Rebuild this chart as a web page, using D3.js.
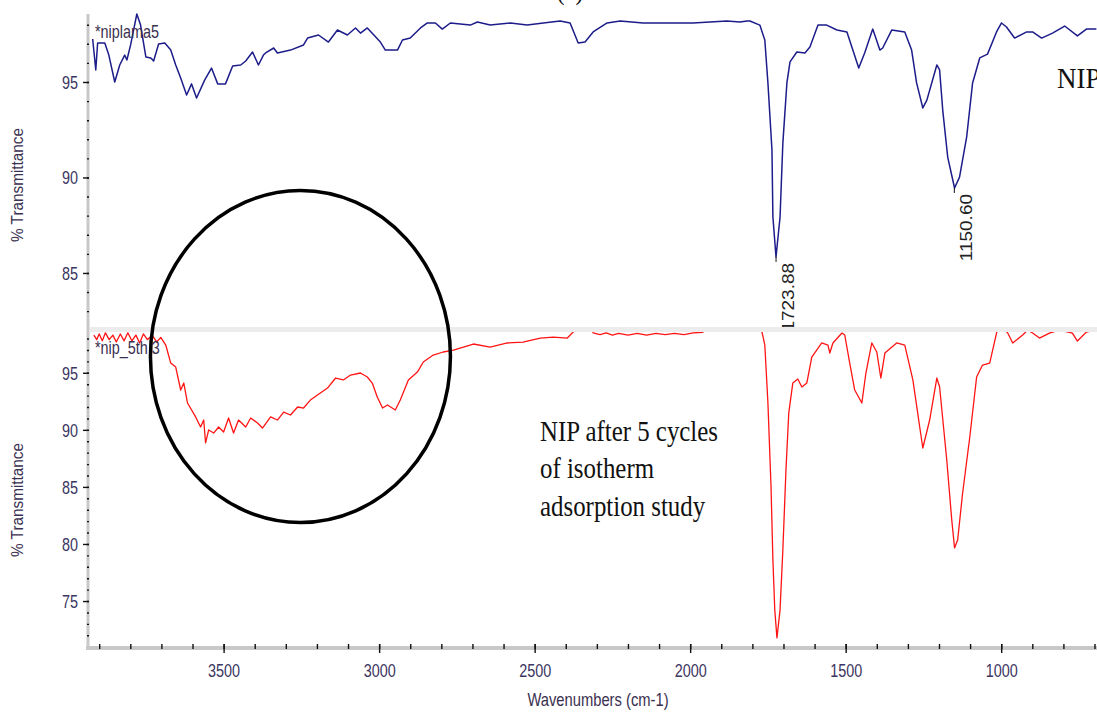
<!DOCTYPE html>
<html>
<head>
<meta charset="utf-8">
<script src="https://d3js.org/d3.v7.min.js"></script>
<style>
  body { margin: 0; background: #fff; }
  svg { display: block; }
</style>
</head>
<body>
<div id="chart"></div>
<script>
// FTIR spectra: wavenumber (cm-1) and % transmittance

// NIP (top panel, blue)
const nipWave = [3921, 3911, 3905, 3895, 3882, 3869, 3850, 3834, 3818, 3811,
    3799, 3779, 3767, 3750, 3734, 3725, 3709, 3689, 3670, 3654,
    3638, 3619, 3603, 3587, 3561, 3539, 3519, 3494, 3471, 3445,
    3429, 3407, 3388, 3372, 3365, 3339, 3327, 3285, 3243, 3230,
    3195, 3163, 3134, 3102, 3076, 3060, 3038, 2996, 2980, 2941,
    2925, 2900, 2867, 2845, 2819, 2797, 2771, 2707, 2684, 2643,
    2578, 2524, 2472, 2418, 2386, 2360, 2338, 2312, 2267, 2225,
    2151, 2042, 1991, 1882, 1840, 1817, 1808, 1776, 1760, 1750,
    1737, 1734, 1724, 1711, 1702, 1689, 1679, 1657, 1631, 1615,
    1589, 1561, 1528, 1496, 1477, 1458, 1439, 1413, 1390, 1381,
    1352, 1310, 1288, 1272, 1252, 1239, 1207, 1198, 1188, 1172,
    1150, 1134, 1111, 1092, 1069, 1044, 1015, 999, 983, 957,
    918, 899, 870, 835, 796, 755, 726, 694];
const nipT = [97.25, 95.63, 97.04, 97.04, 97.04, 96.41, 95.0, 95.89, 96.41, 96.15,
    96.94, 98.56, 97.98, 96.31, 96.26, 96.10, 96.99, 97.04, 96.68, 95.89,
    95.21, 94.32, 94.90, 94.16, 95.10, 95.73, 94.90, 94.90, 95.84, 95.89,
    96.10, 96.57, 95.89, 96.41, 96.52, 96.78, 96.52, 96.67, 96.94, 97.30,
    97.46, 97.09, 97.72, 97.46, 97.83, 97.56, 97.83, 97.09, 96.67, 96.67,
    97.20, 97.30, 97.83, 98.09, 98.09, 97.77, 98.09, 97.98, 98.14, 97.98,
    98.09, 97.98, 98.09, 98.19, 98.09, 97.04, 97.09, 97.62, 98.09, 98.19,
    98.09, 98.09, 98.09, 98.19, 98.14, 98.19, 98.19, 97.98, 97.20, 94.95,
    91.44, 87.93, 85.84, 87.93, 91.80, 94.95, 96.05, 96.57, 96.52, 96.83,
    97.98, 97.98, 97.72, 97.62, 96.67, 95.73, 96.52, 97.77, 96.67, 96.78,
    97.72, 97.62, 96.67, 94.95, 93.64, 94.05, 95.89, 95.63, 93.53, 91.07,
    89.45, 90.02, 92.12, 94.95, 96.26, 96.46, 97.62, 98.09, 97.88, 97.30,
    97.62, 97.62, 97.30, 97.56, 97.93, 97.41, 97.77, 97.77];

// NIP after 5 cycles (bottom panel, red)
const cycWave = [3917, 3908, 3900, 3890, 3880, 3868, 3856, 3845, 3832, 3820,
    3808, 3795, 3782, 3770, 3758, 3745, 3730, 3715, 3702, 3686,
    3670, 3654, 3638, 3628, 3616, 3590, 3574, 3564, 3558, 3548,
    3532, 3516, 3500, 3484, 3468, 3452, 3429, 3413, 3391, 3375,
    3349, 3327, 3307, 3285, 3262, 3243, 3221, 3189, 3166, 3140,
    3115, 3092, 3060, 3038, 3022, 3006, 2989, 2973, 2948, 2932,
    2906, 2877, 2858, 2826, 2794, 2761, 2697, 2643, 2588, 2537,
    2482, 2440, 2395, 2376, 2365, 2320, 2312, 2290, 2270, 2250,
    2230, 2200, 2170, 2140, 2110, 2080, 2050, 2020, 1990, 1959,
    1950, 1780, 1769, 1760, 1750, 1740, 1734, 1728, 1721, 1711,
    1702, 1692, 1683, 1670, 1654, 1641, 1625, 1609, 1577, 1557,
    1551, 1541, 1512, 1503, 1487, 1471, 1448, 1435, 1416, 1400,
    1387, 1374, 1336, 1310, 1284, 1262, 1252, 1230, 1207, 1198,
    1175, 1159, 1150, 1140, 1124, 1101, 1079, 1060, 1037, 1015,
    1005, 979, 963, 931, 915, 899, 877, 845, 813, 771,
    755, 726, 694];
const cycT = [98.3, 97.9, 98.4, 97.8, 98.5, 97.9, 98.3, 97.7, 98.4, 97.8,
    98.5, 97.8, 98.3, 97.6, 98.4, 97.9, 98.3, 97.7, 98.1, 97.43,
    95.85, 95.5, 93.49, 94.10, 92.35, 91.13, 90.25, 90.86, 88.85, 89.99,
    89.72, 90.25, 89.81, 91.04, 89.72, 90.86, 90.25, 91.04, 90.6, 90.16,
    91.13, 90.86, 91.56, 91.30, 92.0, 91.91, 92.61, 93.23, 93.66, 94.54,
    94.37, 94.8, 94.98, 94.63, 94.10, 92.88, 91.91, 92.18, 91.74, 92.61,
    94.37, 95.06, 95.94, 96.55, 96.82, 96.99, 97.52, 97.25, 97.61, 97.69,
    98.04, 98.13, 98.04, 98.57, 99.3, 99.3, 98.5, 98.35, 98.5, 98.3,
    98.45, 98.3, 98.45, 98.3, 98.45, 98.35, 98.45, 98.35, 98.5, 98.55,
    99.3, 99.3, 98.57, 97.43, 92.35, 84.99, 78.6, 74.23, 71.77, 74.23,
    79.48, 86.48, 91.48, 94.10, 94.45, 93.75, 94.10, 96.38, 97.61, 97.43,
    96.73, 97.61, 98.48, 98.31, 95.85, 93.49, 92.35, 94.98, 97.61, 96.82,
    94.54, 96.73, 97.61, 97.43, 94.37, 90.25, 88.41, 90.86, 94.54, 93.75,
    87.36, 82.11, 79.65, 80.35, 84.47, 89.37, 94.63, 95.68, 95.85, 98.48,
    99.3, 98.48, 97.61, 98.31, 98.74, 98.48, 98.04, 98.48, 98.74, 98.48,
    97.78, 98.57, 98.74];

// ticks
const xMajorTicks = [3500, 3000, 2500, 2000, 1500, 1000];
const topMajorTicks = [85, 90, 95];
const botMajorTicks = [75, 80, 85, 90, 95];

// labelled peaks on the NIP spectrum
const peakWave = [1723.88, 1150.60];
const peakT = [85.84, 89.45];
const peakText = ["1723.88", "1150.60"];

const W = 1097, H = 713;
const tickFill = "#3b3561";
const sans = "'Liberation Sans', Arial, sans-serif";
const serif = "'Liberation Serif', 'Times New Roman', serif";

const svg = d3.select("#chart")
    .append("svg")
    .attr("width", W)
    .attr("height", H);

svg.append("rect").attr("width", W).attr("height", H).attr("fill", "#fff");

// scales
const x = d3.scaleLinear().domain([3936, 692]).range([88, 1097]);
const yTop = d3.scaleLinear().domain([82.17, 98.56]).range([327, 14]);
const yBot = d3.scaleLinear().domain([71.0, 98.66]).range([646.7, 331]);

const defs = svg.append("defs");
defs.append("clipPath").attr("id", "clipTop")
    .append("rect").attr("x", 88).attr("y", 0).attr("width", W - 88).attr("height", 327);
defs.append("clipPath").attr("id", "clipBot")
    .append("rect").attr("x", 88).attr("y", 332).attr("width", W - 88).attr("height", 315);

// text helper (the figure's text is squeezed horizontally)
function addText(txt, px, py, size, family, fill, sx, anchor, rot, sy) {
    svg.append("text")
        .attr("transform", `translate(${px},${py}) scale(${sx},${sy || 1})` + (rot ? ` rotate(${rot})` : ""))
        .attr("text-anchor", anchor || "start")
        .attr("font-family", family)
        .attr("font-size", size)
        .attr("fill", fill)
        .text(txt);
}

// ---- top panel
const lineTop = d3.line().x(d => x(d[0])).y(d => yTop(d[1]));
svg.append("path")
    .datum(d3.zip(nipWave, nipT))
    .attr("clip-path", "url(#clipTop)")
    .attr("d", lineTop)
    .attr("fill", "none")
    .attr("stroke", "#1c1c8a")
    .attr("stroke-width", 1.5)
    .attr("stroke-linejoin", "round");

// peak markers and labels
peakWave.forEach((w, i) => {
    const px = x(w), py = yTop(peakT[i]);
    svg.append("line")
        .attr("x1", px).attr("x2", px)
        .attr("y1", py).attr("y2", py + 5)
        .attr("stroke", "#111").attr("stroke-width", 1);
    addText(peakText[i], px + 17.5, py + 6, 19, sans, "#222", 0.85, "end", -90);
});

addText("*niplama5", 95, 38, 18, sans, "#3a3050", 0.8);
addText("NIP", 1057, 88, 30, serif, "#111", 0.9);
addText("(a)", 570, -1, 30, serif, "#111", 0.83, "middle");

// ---- bottom panel covers the top one
svg.append("rect")
    .attr("x", 89).attr("y", 327)
    .attr("width", W - 89).attr("height", 320)
    .attr("fill", "#fff");
svg.append("rect")
    .attr("x", 90).attr("y", 327)
    .attr("width", W - 90).attr("height", 5)
    .attr("fill", "#ececec");

const lineBot = d3.line().x(d => x(d[0])).y(d => yBot(d[1]));
svg.append("path")
    .datum(d3.zip(cycWave, cycT))
    .attr("clip-path", "url(#clipBot)")
    .attr("d", lineBot)
    .attr("fill", "none")
    .attr("stroke", "#ff1414")
    .attr("stroke-width", 1.3)
    .attr("stroke-linejoin", "round");

addText("*nip_5th 3", 95, 354, 18, sans, "#3a3050", 0.8);

addText("NIP after 5 cycles", 540, 441, 30, serif, "#111", 0.83);
addText("of isotherm", 540, 478, 30, serif, "#111", 0.83);
addText("adsorption study", 540, 516, 30, serif, "#111", 0.83);

// circle round the 3000-3600 region
const cx = x(3253), cy = yBot(96.42);
svg.append("ellipse")
    .attr("cx", cx).attr("cy", cy)
    .attr("rx", 150).attr("ry", 166)
    .attr("fill", "none")
    .attr("stroke", "#000")
    .attr("stroke-width", 3.5);

// ---- axes
// gray axis bands
svg.append("line")
    .attr("x1", 88).attr("x2", 88).attr("y1", 14).attr("y2", 648)
    .attr("stroke", "#c8c8c8").attr("stroke-width", 3);
svg.append("line")
    .attr("x1", 86).attr("x2", W).attr("y1", 648).attr("y2", 648)
    .attr("stroke", "#c8c8c8").attr("stroke-width", 4);

function styleTicks(g) {
    g.select(".domain").remove();
    g.selectAll(".tick line").attr("stroke", "#111").attr("stroke-width", 1.4);
}

// x axis: minor every 100, major every 500
svg.append("g")
    .attr("transform", "translate(0,644)")
    .call(d3.axisBottom(x).tickValues(d3.range(700, 4000, 100)).tickSize(5).tickFormat(""))
    .call(styleTicks);
svg.append("g")
    .attr("transform", "translate(0,644)")
    .call(d3.axisBottom(x).tickValues(xMajorTicks).tickSize(9).tickFormat(d3.format("d")))
    .call(styleTicks)
    .call(g => g.selectAll("text")
        .attr("y", null).attr("dy", null)
        .attr("transform", "translate(0,33) scale(0.8,1)")
        .attr("fill", tickFill)
        .attr("font-family", sans)
        .attr("font-size", 18));

// y axes: minor every 1, major every 5
function yAxis(scale, majors, lo, hi) {
    svg.append("g")
        .attr("transform", "translate(89,0)")
        .call(d3.axisLeft(scale).tickValues(d3.range(lo, hi + 1, 1)).tickSize(2).tickFormat(""))
        .call(styleTicks);
    svg.append("g")
        .attr("transform", "translate(89,0)")
        .call(d3.axisLeft(scale).tickValues(majors).tickSize(6).tickFormat(d3.format("d")))
        .call(styleTicks)
        .call(g => g.selectAll("text")
            .attr("x", null).attr("dy", null)
            .attr("transform", "translate(-11,6.5) scale(0.8,1)")
            .attr("fill", tickFill)
            .attr("font-family", sans)
            .attr("font-size", 18));
}
yAxis(yTop, topMajorTicks, 83, 98);
yAxis(yBot, botMajorTicks, 72, 98);

// axis titles
addText("% Transmittance", 23, 185, 18, sans, "#3a3050", 0.95, "middle", -90, 0.85);
addText("% Transmittance", 23, 500, 18, sans, "#3a3050", 0.95, "middle", -90, 0.85);
addText("Wavenumbers (cm-1)", 598, 706, 18, sans, "#3a3050", 0.82, "middle");
</script>
</body>
</html>
